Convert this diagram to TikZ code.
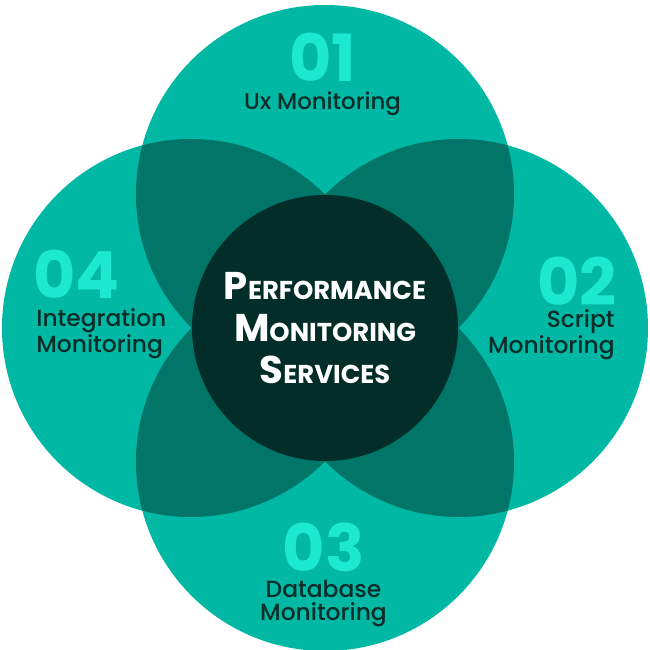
\documentclass[tikz,border=0pt]{standalone}
\usepackage{fontspec}
\setmainfont{Poppins}
\newfontfamily\medfont{Poppins Medium}
\usetikzlibrary{positioning}

\definecolor{petalteal}{HTML}{00B8A3}
\definecolor{lensteal}{HTML}{007568}
\definecolor{hubdark}{HTML}{022D28}
\definecolor{numcyan}{HTML}{1DE8D0}
\definecolor{inkdark}{HTML}{0B2D29}

\newcommand{\bigsmall}[2]{{\fontsize{22}{24}\selectfont #1}{\fontsize{14.7}{24}\selectfont #2}}

\begin{document}
\begin{tikzpicture}[
    petal/.style={circle, fill=petalteal, minimum size=7.56cm, inner sep=0pt},
    lens/.style={fill=lensteal},
    hub/.style={circle, fill=hubdark, minimum size=5.32cm, inner sep=0pt, align=center, text=white, font=\bfseries\fontsize{14.7}{23.9}\selectfont},
    num/.style={inner sep=0pt, text=numcyan, font=\bfseries\fontsize{37}{37}\selectfont},
    itemtext/.style={inner sep=0pt, text=inkdark, font=\medfont\fontsize{13.3}{13}\selectfont}]

\useasboundingbox (-6.5,-6.44) rectangle (6.5,6.56);

% Four petals
\node[petal] (ux) at (0,2.68) {};
\node[petal] (script) at (2.68,0) {};
\node[petal] (db) at (0,-2.68) {};
\node[petal] (integ) at (-2.68,0) {};

% Overlapping lenses
\begin{scope}
  \clip (0,2.68) circle (3.78);
  \fill[lens] (2.68,0) circle (3.78);
  \fill[lens] (-2.68,0) circle (3.78);
\end{scope}
\begin{scope}
  \clip (0,-2.68) circle (3.78);
  \fill[lens] (2.68,0) circle (3.78);
  \fill[lens] (-2.68,0) circle (3.78);
\end{scope}

% Centre
\node[hub] (hub) at (0,0) {\bigsmall{P}{ERFORMANCE}\\ \bigsmall{M}{ONITORING}\\ \bigsmall{S}{ERVICES}};

% Top
\node[num] (n1) at (-0.04,5.42) {01};
\node[itemtext, font=\medfont\fontsize{13}{13}\selectfont, anchor=base] (t1) at (-0.05,4.36) {Ux Monitoring};

% Right
\node[num, anchor=east] (n2) at (5.84,0.94) {02};
\node[itemtext, align=right, anchor=north east] (t2) at (5.8,0.38) {Script\\Monitoring};

% Bottom
\node[num] (n3) at (-0.03,-4.38) {03};
\node[itemtext, align=center, anchor=north] (t3) at (-0.03,-5.04) {Database\\Monitoring};

% Left
\node[num, anchor=west] (n4) at (-5.84,1.07) {04};
\node[itemtext, align=left, anchor=north west] (t4) at (-5.78,0.4) {Integration\\Monitoring};

\end{tikzpicture}
\end{document}
